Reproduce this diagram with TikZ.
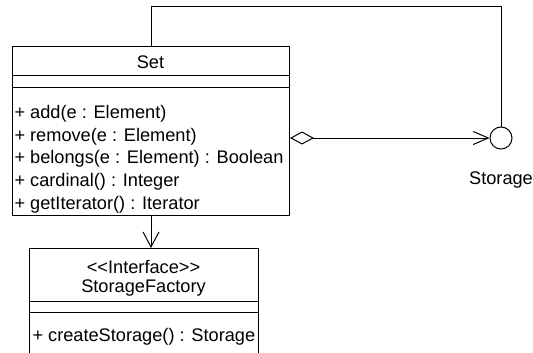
\documentclass[tikz,border=0pt]{standalone}
\usepackage{fontspec}
\setmainfont{Liberation Sans}
\usepackage{tikz}
\usetikzlibrary{positioning,calc,arrows.meta}

\begin{document}
\begin{tikzpicture}[x=1pt,y=-1pt,line width=1pt,
    umlbox/.style={draw,anchor=north west,inner sep=0pt},
    txt/.style={inner sep=0pt,font=\fontsize{18.2}{22.6}\selectfont}]
    \useasboundingbox (0,0) rectangle (533,353);
    \clip (0,0) rectangle (533,353);

    % Set class
    \node[umlbox,minimum width=277pt,minimum height=169pt] (setbox) at (12,46) {};
    \draw (12,76) -- (289,76);
    \draw (12,88) -- (289,88);
    \node[txt] (setname) at (150.5,62) {Set};
    \node[txt,anchor=north west,align=left] (setops) at (14,105) {%
        + add(e : Element)\\
        + remove(e : Element)\\
        + belongs(e : Element) : Boolean\\
        + cardinal() : Integer\\
        + getIterator() : Iterator};

    % Storage interface (lollipop)
    \node[draw,circle,minimum size=22pt,inner sep=0pt] (stor) at (501,138) {};
    \node[txt,below=22pt of stor] (storlabel) {Storage};

    % StorageFactory interface
    \draw (29,360) -- (29,248) -- (258,248) -- (258,360);
    \coordinate (factop) at (147,248);
    \draw (29,301) -- (258,301);
    \draw (29,312) -- (258,312);
    \node[txt] (stereo) at (143.5,267) {<{}<Interface>{}>};
    \node[txt] (facname) at (143.5,288) {StorageFactory};
    \node[txt,anchor=west] (facop) at (32,337) {+ createStorage() : Storage};

    % Connectors
    \draw (setbox.north) -- ++(0,-39) -| (stor.north);
    \draw[{Diamond[open,length=24pt,width=13pt]}-{Straight Barb[length=15pt,width=13pt]}]
        (setbox.east |- stor) -- (stor.west);
    \draw[-{Straight Barb[length=15pt,width=16pt]}] (setbox.south) -- (setbox.south |- factop);
\end{tikzpicture}
\end{document}
